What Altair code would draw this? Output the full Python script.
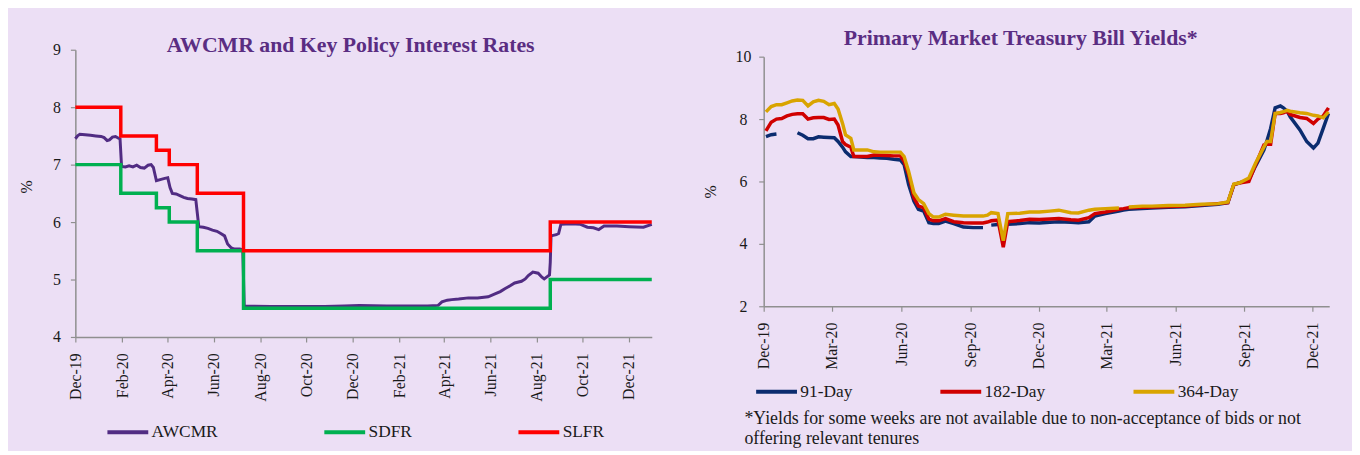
import altair as alt
import pandas as pd

FONT = "Liberation Serif"
BG = "#ECDFF5"
TITLE_COLOR = "#5A2D82"
AXIS_GRAY = "#8F8F8F"
TEXT = "#1A1A1A"

# ---------------- Left panel: AWCMR and key policy interest rates ----------------
awcmr_dates = [
    "2019-12-01", "2019-12-04", "2019-12-07", "2019-12-14", "2019-12-21", "2019-12-28",
    "2020-01-04", "2020-01-08", "2020-01-12", "2020-01-15", "2020-01-19", "2020-01-23",
    "2020-01-27", "2020-01-29", "2020-01-31", "2020-02-05", "2020-02-10", "2020-02-15",
    "2020-02-20", "2020-02-25", "2020-03-01", "2020-03-06", "2020-03-10", "2020-03-13",
    "2020-03-17", "2020-03-22", "2020-03-28", "2020-04-01", "2020-04-04", "2020-04-07",
    "2020-04-12", "2020-04-17", "2020-04-22", "2020-04-27", "2020-05-03", "2020-05-08",
    "2020-05-12", "2020-05-18", "2020-05-24", "2020-05-30", "2020-06-05", "2020-06-10",
    "2020-06-15", "2020-06-19", "2020-06-24", "2020-06-28", "2020-07-05", "2020-07-09",
    "2020-07-11", "2020-08-15", "2020-09-20", "2020-10-25", "2020-11-20", "2020-12-10",
    "2021-01-15", "2021-02-15", "2021-03-10", "2021-03-24", "2021-03-29", "2021-04-05",
    "2021-04-11", "2021-04-20", "2021-05-03", "2021-05-15", "2021-05-29", "2021-06-07",
    "2021-06-14", "2021-06-20", "2021-06-27", "2021-07-03", "2021-07-12", "2021-07-17",
    "2021-07-21", "2021-07-27", "2021-08-03", "2021-08-08", "2021-08-11", "2021-08-15",
    "2021-08-18", "2021-08-19", "2021-08-20", "2021-08-27", "2021-08-30", "2021-09-02",
    "2021-09-15", "2021-09-28", "2021-10-07", "2021-10-15", "2021-10-22", "2021-10-29",
    "2021-11-15", "2021-12-01", "2021-12-20", "2021-12-31",
]
awcmr_values = [
    7.45, 7.50, 7.53, 7.52, 7.51, 7.50,
    7.49, 7.47, 7.42, 7.43, 7.48, 7.49,
    7.46, 7.45, 6.97, 6.96, 6.98, 6.96,
    6.99, 6.95, 6.94, 6.99, 7.00, 6.95,
    6.72, 6.74, 6.76, 6.77, 6.60, 6.50,
    6.49, 6.46, 6.43, 6.41, 6.40, 6.39,
    5.92, 5.91, 5.89, 5.86, 5.84, 5.80,
    5.76, 5.62, 5.55, 5.53, 5.53, 5.52,
    4.54, 4.53, 4.53, 4.53, 4.54, 4.55,
    4.54, 4.54, 4.54, 4.55, 4.61, 4.64,
    4.65, 4.66, 4.68, 4.68, 4.70, 4.75,
    4.79, 4.84, 4.89, 4.94, 4.97, 5.01,
    5.07, 5.13, 5.11, 5.04, 5.01, 5.05,
    5.08, 5.30, 5.76, 5.78, 5.80, 5.96,
    5.97, 5.96, 5.91, 5.90, 5.87, 5.93,
    5.93, 5.92, 5.91, 5.96,
]
policy_dates = ["2019-12-01", "2020-01-30", "2020-03-17", "2020-04-03",
                "2020-05-10", "2020-07-10", "2021-08-19", "2021-12-31"]
sdfr_values = [7.00, 6.50, 6.25, 6.00, 5.50, 4.50, 5.00, 5.00]
slfr_values = [8.00, 7.50, 7.25, 7.00, 6.50, 5.50, 6.00, 6.00]

left_tick_dates = ["2019-12-01", "2020-02-01", "2020-04-01", "2020-06-01", "2020-08-01",
                   "2020-10-01", "2020-12-01", "2021-02-01", "2021-04-01", "2021-06-01",
                   "2021-08-01", "2021-10-01", "2021-12-01"]
left_y_ticks = [4, 5, 6, 7, 8, 9]
left_series = ["AWCMR", "SDFR", "SLFR"]
left_colors = ["#512C83", "#00B050", "#FF0000"]

# ---------------- Right panel: primary market T-bill yields ----------------
tb_dates = [
    "2019-12-04", "2019-12-11", "2019-12-18", "2019-12-25", "2020-01-01", "2020-01-08",
    "2020-01-15", "2020-01-22", "2020-01-29", "2020-02-05", "2020-02-12", "2020-02-19",
    "2020-02-26", "2020-03-04", "2020-03-09", "2020-03-15", "2020-03-19", "2020-03-26",
    "2020-03-30", "2020-04-08", "2020-04-17", "2020-04-26", "2020-05-04", "2020-05-13",
    "2020-05-22", "2020-05-31", "2020-06-05", "2020-06-11", "2020-06-18", "2020-06-24",
    "2020-07-01", "2020-07-08", "2020-07-14", "2020-07-21", "2020-07-30", "2020-08-10",
    "2020-08-23", "2020-09-05", "2020-09-18", "2020-09-24", "2020-09-29", "2020-10-08",
    "2020-10-15", "2020-10-21", "2020-11-06", "2020-11-19", "2020-12-02", "2020-12-16",
    "2020-12-28", "2021-01-13", "2021-01-23", "2021-02-06", "2021-02-14", "2021-02-28",
    "2021-03-18", "2021-03-24", "2021-03-31", "2021-04-18", "2021-05-01", "2021-05-23",
    "2021-06-14", "2021-07-06", "2021-07-28", "2021-08-10", "2021-08-18", "2021-08-25",
    "2021-09-07", "2021-09-16", "2021-09-27", "2021-10-01", "2021-10-06", "2021-10-12",
    "2021-10-19", "2021-10-23", "2021-10-28", "2021-11-01", "2021-11-14", "2021-11-23",
    "2021-12-02", "2021-12-08", "2021-12-15", "2021-12-22",
]
tb_91 = [
    7.44, 7.50, 7.52, None, None, None,
    7.56, 7.48, 7.37, 7.37, 7.43, 7.42,
    7.41, 7.40, 7.28, 7.10, 6.95, 6.80,
    6.80, 6.78, 6.77, 6.77, 6.75, 6.74,
    6.71, 6.69, 6.54, 5.90, 5.37, 5.11,
    5.05, 4.68, 4.65, 4.65, 4.73, 4.65,
    4.54, 4.52, 4.52, None, 4.60, 4.62,
    None, 4.63, 4.65, 4.68, 4.67, 4.69,
    4.71, 4.69, 4.68, 4.71, 4.89, 4.97,
    5.05, 5.08, 5.11, 5.13, 5.15, 5.17,
    5.19, 5.23, 5.27, 5.32, 5.90, 5.95,
    6.05, 6.50, 7.01, 7.30, 7.70, 8.36,
    8.42, 8.36, 8.25, 8.07, 7.65, 7.28,
    7.07, 7.23, 7.70, 8.18,
]
tb_182 = [
    7.62, 7.90, 8.00, 8.02, 8.10, 8.15,
    8.17, 8.17, 8.00, 8.04, 8.05, 8.05,
    7.99, 8.00, 7.81, 7.28, 7.18, 7.10,
    6.80, 6.80, 6.80, 6.85, 6.84, 6.83,
    6.82, 6.82, 6.64, 6.22, 5.48, 5.21,
    5.16, 4.79, 4.74, 4.74, 4.81, 4.71,
    4.68, 4.67, 4.67, 4.70, 4.74, 4.76,
    3.89, 4.71, 4.75, 4.79, 4.78, 4.80,
    4.81, 4.77, 4.76, 4.84, 4.97, 5.02,
    5.11, 5.13, 5.16, 5.17, 5.18, 5.20,
    5.21, 5.25, 5.29, 5.32, 5.90, 5.95,
    6.00, 6.54, 7.17, 7.19, 7.19, 8.18,
    8.18, 8.20, 8.25, 8.15, 8.05, 8.02,
    7.86, 8.00, 8.10, 8.36,
]
tb_364 = [
    8.23, 8.40, 8.46, 8.46, 8.52, 8.58,
    8.61, 8.60, 8.42, 8.55, 8.60, 8.57,
    8.46, 8.50, 8.32, 7.86, 7.49, 7.38,
    7.01, 7.01, 7.01, 6.95, 6.94, 6.94,
    6.94, 6.94, 6.80, 6.32, 5.64, 5.42,
    5.29, 4.97, 4.86, 4.86, 4.95, 4.92,
    4.89, 4.89, 4.89, 4.92, 5.00, 4.97,
    4.10, 4.97, 4.98, 5.02, 5.02, 5.05,
    5.08, 5.00, 4.99, 5.08, 5.11, 5.13,
    5.15, None, 5.18, 5.21, 5.21, 5.23,
    5.24, 5.27, 5.29, 5.34, 5.92, 5.95,
    6.11, 6.59, 7.10, 7.28, 7.28, 8.18,
    8.21, 8.24, 8.28, 8.25, 8.20, 8.18,
    8.12, 8.10, 8.04, 8.23,
]
right_tick_dates = ["2019-12-01", "2020-03-01", "2020-06-01", "2020-09-01", "2020-12-01",
                    "2021-03-01", "2021-06-01", "2021-09-01", "2021-12-01"]
right_y_ticks = [2, 4, 6, 8, 10]
right_series = ["91-Day", "182-Day", "364-Day"]
right_colors = ["#0B2C6F", "#D00000", "#D9A400"]
footnote = ["*Yields for some weeks are not available due to non-acceptance of bids or not",
            "offering relevant tenures"]


def ms(s):
    return int(pd.Timestamp(s, tz="UTC").value // 10**6)


# ---------------- Build tables ----------------
awcmr_df = pd.DataFrame({"date": awcmr_dates, "value": awcmr_values, "series": "AWCMR"})
policy_df = pd.concat([
    pd.DataFrame({"date": policy_dates, "value": sdfr_values, "series": "SDFR"}),
    pd.DataFrame({"date": policy_dates, "value": slfr_values, "series": "SLFR"}),
], ignore_index=True)

tb_df = pd.concat([
    pd.DataFrame({"date": tb_dates, "value": tb_91, "series": "91-Day"}),
    pd.DataFrame({"date": tb_dates, "value": tb_182, "series": "182-Day"}),
    pd.DataFrame({"date": tb_dates, "value": tb_364, "series": "364-Day"}),
], ignore_index=True)
tb_df["value"] = tb_df["value"].astype(float)

# ---------------- Left chart ----------------
left_x = alt.X(
    "date:T",
    scale=alt.Scale(type="utc", domain=[ms("2019-12-01"), ms("2021-12-31")]),
    axis=alt.Axis(values=[ms(d) for d in left_tick_dates], format="%b-%y",
                  labelAngle=-90, labelPadding=11, title=None),
)
left_y = alt.Y(
    "value:Q",
    scale=alt.Scale(domain=[4, 9], nice=False, zero=False),
    axis=alt.Axis(values=left_y_ticks, title="%", titlePadding=18, labelPadding=10,
                  titleY=138),
)
left_color = alt.Color(
    "series:N",
    scale=alt.Scale(domain=left_series, range=left_colors),
    legend=alt.Legend(orient="none", legendX=30, legendY=363, direction="horizontal",
                      title=None, symbolType="stroke", symbolStrokeWidth=4,
                      symbolSize=1700, labelFont=FONT, labelFontSize=17.5,
                      labelColor=TEXT, columnPadding=99, labelOffset=1),
)

awcmr_line = alt.Chart(awcmr_df).mark_line(strokeWidth=3).encode(
    x=left_x, y=left_y, color=left_color)
policy_line = alt.Chart(policy_df).mark_line(strokeWidth=3.5, interpolate="step-after").encode(
    x=left_x, y=left_y, color=left_color)

left = alt.layer(awcmr_line, policy_line).properties(
    width=582, height=290,
    title=alt.TitleParams(
        text="AWCMR and Key Policy Interest Rates", font=FONT, fontSize=22,
        fontWeight="bold", color=TITLE_COLOR, anchor="middle", frame="group",
        offset=-29, baseline="alphabetic", dx=-13, dy=3),
)

# ---------------- Right chart ----------------
right = alt.Chart(tb_df).mark_line(strokeWidth=3.5).encode(
    x=alt.X(
        "date:T",
        scale=alt.Scale(type="utc", domain=[ms("2019-12-01"), ms("2021-12-23")]),
        axis=alt.Axis(values=[ms(d) for d in right_tick_dates], format="%b-%y",
                      labelAngle=-90, labelPadding=11, title=footnote,
                      titleX=-20, titleY=118, titleAlign="left", titleAnchor="start",
                      titleBaseline="alphabetic", titleFontSize=18, titleLineHeight=21,
                      titleLimit=800),
    ),
    y=alt.Y(
        "value:Q",
        scale=alt.Scale(domain=[2, 10], range=[259, 7], nice=False, zero=False),
        axis=alt.Axis(values=right_y_ticks, title="%", titlePadding=17,
                      labelAlign="center", labelPadding=16, titleY=143),
    ),
    color=alt.Color(
        "series:N",
        sort=right_series,
        scale=alt.Scale(domain=right_series, range=right_colors),
        legend=alt.Legend(orient="none", legendX=-10, legendY=322, direction="horizontal",
                          title=None, symbolType="stroke", symbolStrokeWidth=4,
                          symbolSize=1700, labelFont=FONT, labelFontSize=17.5,
                          labelColor=TEXT, columnPadding=80, labelOffset=1),
    ),
).properties(
    width=571, height=259,
    title=alt.TitleParams(
        text="Primary Market Treasury Bill Yields*", font=FONT, fontSize=22,
        fontWeight="bold", color=TITLE_COLOR, anchor="middle", frame="group",
        offset=-22, baseline="alphabetic", dx=-26, dy=-4),
)

chart = alt.hconcat(left, right, spacing=42).resolve_scale(
    color="independent", x="independent", y="independent"
).resolve_legend(color="independent").properties(
    background=BG,
    padding={"left": 10, "top": 16, "right": 16, "bottom": 0},
).configure_view(stroke="transparent").configure_axis(
    domainColor=AXIS_GRAY, tickColor=AXIS_GRAY, domainWidth=1.5, tickWidth=1.2,
    tickSize=5, grid=False, labelFont=FONT, labelFontSize=16, labelColor=TEXT,
    titleFont=FONT, titleFontSize=16, titleFontWeight="normal", titleColor=TEXT,
)

chart.save("out.html", embed_options={"renderer": "svg", "actions": False})
